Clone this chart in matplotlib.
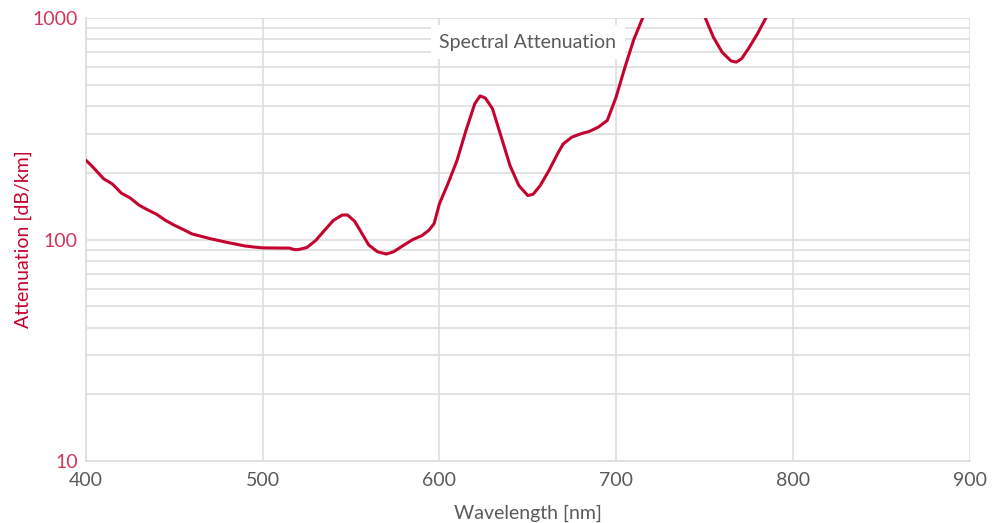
import matplotlib.pyplot as plt
import numpy as np
from matplotlib.ticker import FixedLocator, NullFormatter

# wavelength [nm] and attenuation [dB/km]
wavelength = [400, 404, 410, 415, 420, 425, 430, 435, 440, 445, 450, 455, 460, 470,
              480, 490, 495, 500, 510, 515, 518, 520, 525, 530, 535, 540, 545, 548,
              552, 556, 560, 565, 570, 574, 580, 585, 590, 594, 597, 600, 605, 610,
              615, 620, 623, 626, 630, 635, 640, 645, 650, 653, 657, 662, 667, 670,
              675, 680, 685, 690, 695, 700, 705, 710, 715, 720, 730, 740, 745, 750,
              755, 760, 765, 768, 771, 775, 780, 785, 790]
attenuation = [228, 212, 188, 178, 162, 154, 143, 136, 130, 122, 116, 111, 106, 101,
               97, 93.5, 92.5, 91.7, 91.5, 91.5, 90, 90, 92, 99, 110, 122, 129, 129,
               121, 107, 94.5, 88, 86, 88, 94.5, 100, 104, 110, 118, 145, 180, 228,
               310, 410, 445, 435, 390, 290, 215, 175, 158, 160, 175, 205, 245, 270,
               290, 300, 308, 322, 345, 440, 600, 800, 1000, 1300, 1700, 1500, 1250,
               1020, 820, 700, 640, 632, 655, 730, 850, 1010, 1200]

red = '#c4032e'
grey = '#5a5a5a'
gridc = '#dedede'

plt.rcParams['font.family'] = ['Lato', 'DejaVu Sans']

fig = plt.figure(figsize=(10.03, 5.23), dpi=100)
ax = fig.add_axes([0.0857, 0.1185, 0.8810, 0.8471])

ax.plot(wavelength, attenuation, color=red, lw=2.2, solid_capstyle='round',
        solid_joinstyle='round', zorder=3)

ax.set_yscale('log')
ax.set_xlim(400, 900)
ax.set_ylim(10, 1000)

ax.xaxis.set_major_locator(FixedLocator([400, 500, 600, 700, 800, 900]))
ax.yaxis.set_major_locator(FixedLocator([10, 100, 1000]))
ax.set_yticklabels(['10', '100', '1000'])
ax.yaxis.set_minor_locator(FixedLocator([v * d for d in (10, 100) for v in range(2, 10)]))
ax.yaxis.set_minor_formatter(NullFormatter())

ax.grid(True, which='both', axis='y', color=gridc, lw=1.2)
ax.grid(True, which='major', axis='x', color=gridc, lw=1.2)
ax.set_axisbelow(True)

for s in ['top', 'right']:
    ax.spines[s].set_visible(False)
for s in ['left', 'bottom']:
    ax.spines[s].set_color(gridc)
    ax.spines[s].set_linewidth(1.2)

ax.tick_params(axis='both', which='both', length=0)
ax.tick_params(axis='x', colors=grey, labelsize=14, pad=8)
ax.tick_params(axis='y', colors='#d0375a', labelsize=14, pad=6)

ax.set_xlabel('Wavelength [nm]', color=grey, fontsize=14, labelpad=11)
ax.set_ylabel('Attenuation [dB/km]', color=red, fontsize=14, labelpad=0)

ax.text(0.5, 0.945, 'Spectral Attenuation', transform=ax.transAxes, ha='center', va='center',
        fontsize=14, color=grey, zorder=2,
        bbox=dict(facecolor='white', edgecolor='none', pad=6))

fig.savefig('out.png', dpi=100)
